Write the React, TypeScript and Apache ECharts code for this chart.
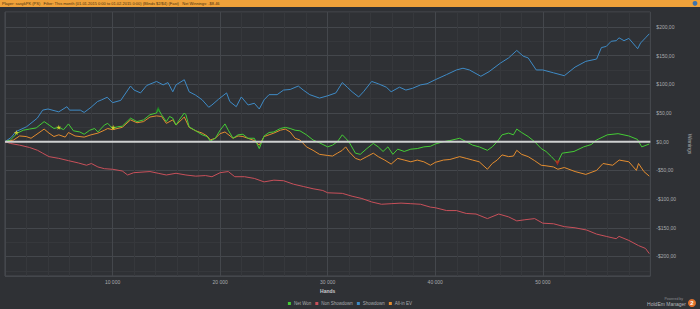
import React, { useEffect, useRef } from "react";
import * as echarts from "echarts";

// [hands, winnings $]
const netWon: [number, number][] = [[0,0],[500,3],[1150,15],[1700,20],[2270,22],[2900,24],[3640,35],[4100,29],[4550,23],[5000,25],[5450,21],[5900,31],[6360,19],[6950,17],[7360,13],[7880,20],[8330,23],[8640,17],[9240,29],[9550,32],[10000,23],[10450,26],[10900,27],[11670,41],[12270,35],[12880,38],[13480,47],[14090,50],[14240,57],[14550,47],[15000,35],[15300,44],[15600,41],[15900,29],[16200,38],[16670,50],[16820,47],[17120,26],[17730,19],[18330,12],[18790,9],[19090,1],[19550,6],[20000,20],[20450,31],[20760,20],[21200,6],[21670,12],[22120,13],[22580,6],[23180,6],[23640,-12],[24090,10],[24550,16],[25000,17],[25600,23],[26060,25],[26510,23],[26970,20],[27420,19],[28030,12],[28640,3],[29240,-2],[30000,-9],[30450,-6],[30900,0],[31360,12],[31670,6],[31970,0],[32580,-20],[33030,-22],[33640,-12],[34240,-3],[34700,-9],[35150,-17],[35600,-9],[36060,-22],[36510,-13],[37120,-17],[37730,-13],[38330,-12],[38940,-9],[39550,-8],[40000,-4],[40760,0],[41360,2],[42270,6],[42880,0],[43480,-6],[44090,-9],[44850,-15],[45300,-9],[45760,0],[46210,12],[46820,15],[47270,12],[47580,22],[48030,16],[48640,9],[49240,0],[49850,-12],[50300,-17],[50800,-26],[51360,-37],[51800,-20],[52900,-17],[53800,-9],[54500,-5],[55000,3],[56000,12],[57000,14],[58000,10],[58800,4],[59200,-9],[59900,-4]];

const nonShowdown: [number, number][] = [[0,0],[500,-3],[1360,-6],[2270,-10],[3030,-15],[3500,-20],[4090,-26],[5000,-29],[5900,-33],[6820,-37],[7580,-41],[8030,-38],[8640,-44],[9240,-47],[10000,-48],[10900,-51],[11400,-58],[11970,-54],[13480,-52],[14240,-55],[15000,-58],[15900,-55],[16820,-58],[17730,-60],[18640,-59],[19240,-61],[20000,-54],[20760,-52],[21360,-61],[22270,-61],[23180,-64],[24090,-70],[25000,-67],[25900,-68],[26820,-74],[27730,-78],[28640,-82],[29550,-85],[30000,-89],[31360,-90],[32270,-95],[33180,-99],[34090,-105],[35000,-109],[35900,-108],[36820,-107],[37730,-108],[38640,-109],[39550,-114],[40000,-115],[41060,-120],[41970,-120],[42880,-125],[43790,-126],[44850,-134],[45900,-126],[46820,-131],[47580,-138],[48330,-136],[49240,-134],[50000,-142],[51000,-143],[52000,-148],[53000,-150],[54090,-154],[55000,-161],[55900,-165],[56820,-169],[57090,-165],[58000,-172],[58900,-181],[59550,-186],[59900,-195]];

const showdown: [number, number][] = [[0,0],[600,8],[1000,17.5],[2000,26],[3000,41],[3500,55],[4000,57],[5000,52],[5760,61],[6000,55],[7000,55],[7360,51],[8000,60],[8600,70],[9000,73],[9500,77.5],[10000,68],[10760,72],[11670,97],[12000,90],[12600,85],[13180,98],[14090,105],[14700,99],[15150,103],[15600,87],[15900,99],[16670,108],[17120,87],[17730,81],[18330,73],[18940,60],[19240,64],[19850,74],[20600,85],[20900,70],[21500,61],[21970,78],[22600,64],[23180,67],[23640,57],[24090,73],[24550,82],[25300,82],[25900,90],[26510,91],[27270,97],[27730,90],[28330,82],[29240,76],[30000,80],[30760,85],[31360,103],[31820,95],[32270,87],[32880,78],[33330,87],[34090,105],[34700,101],[35450,95],[35900,87],[36670,95],[37270,90],[37880,93],[38640,99],[39240,101],[40000,108],[41060,117],[41970,125],[42580,128],[43180,125],[44240,114],[45000,122],[46060,137],[46820,146],[47580,159],[48180,149],[48640,146],[49390,125],[50000,125],[51000,120],[52000,115],[53000,130],[54000,140],[55000,144],[55450,164],[55900,166],[56360,175],[56820,176],[57090,181],[57550,176],[58000,180],[58640,166],[58820,162],[59090,172],[59550,181],[59900,188]];

const allInEV: [number, number][] = [[0,0],[800,3],[1360,10],[1970,9],[2420,6],[2880,12],[3640,22],[4090,15],[4550,9],[5000,12],[5600,8],[5900,16],[6510,10],[7360,8],[8000,12],[8640,15],[9240,20],[9550,23],[10000,21],[10900,25],[11670,38],[12270,33],[12880,35],[13480,43],[14090,45],[14550,44],[15000,32],[15600,38],[15900,29],[16670,43],[17120,25],[17730,19],[18330,15],[18790,10],[19090,3],[19550,6],[20000,14],[20450,17],[21200,6],[21670,10],[22120,9],[22580,6],[23180,2],[23640,-6],[24090,9],[24550,12],[25000,15],[25600,20],[26060,22],[26510,17],[26970,6],[27420,3],[28030,-9],[28640,-15],[29240,-22],[30000,-24],[30450,-25],[30900,-20],[31360,-15],[31670,-9],[31970,-17],[32580,-29],[33030,-32],[33640,-26],[34240,-20],[34700,-26],[35300,-32],[35900,-39],[36510,-29],[37120,-32],[37730,-35],[38330,-32],[38940,-35],[39550,-41],[40000,-36],[40760,-32],[41360,-31],[42270,-26],[42880,-29],[43480,-32],[44090,-35],[44850,-48],[45300,-38],[45760,-32],[46210,-23],[46820,-26],[47270,-25],[47580,-15],[48030,-22],[48640,-26],[49240,-33],[49850,-41],[50300,-42],[51000,-44],[51400,-48],[52000,-45],[53000,-52],[54000,-57],[55000,-50],[55600,-38],[56500,-41],[57100,-32],[58000,-35],[58700,-50],[58900,-38],[59400,-52],[59900,-60]];

const starMarks: [number, number][] = [[1060,16],[5000,25],[10060,25]];
const greenMarks: [number, number][] = [[14240,57]];
const redMarks: [number, number][] = [[51360,-37]];

const seriesNames = ["Net Won", "Non Showdown", "Showdown", "All-in EV"];
const zeroLine: [number, number][] = [[0,0],[60000,0]];

const headerText =
  "Player: sasykPK (PS)   Filter: This month (01.01.2015 0:00 to 01.02.2015 0:00) (Blinds $2/$4) (Fast)   Net Winnings: -$8.46";

const FONT = "Liberation Sans, DejaVu Sans, sans-serif";
const STAR = "path://M50,0 L61,35 L98,35 L68,57 L79,91 L50,70 L21,91 L32,57 L2,35 L39,35 Z";

function fmtHands(v: number) {
  return String(v).replace(/\B(?=(\d{3})+(?!\d))/g, " ");
}
function fmtMoney(v: number) {
  const s = Math.abs(v).toFixed(2).replace(".", ",");
  return (v < 0 ? "-$" : "$") + s;
}

export default function App() {
  const ref = useRef<HTMLDivElement>(null);
  useEffect(() => {
    if (!ref.current) return;
    const chart = echarts.init(ref.current, null, { renderer: "svg" });
    const line = (name: string, data: [number, number][], color: string, z: number) => ({
      name,
      type: "line",
      data,
      showSymbol: false,
      symbol: "none",
      z,
      lineStyle: { color, width: 1 },
      itemStyle: { color },
    });
    chart.setOption({
      animation: false,
      backgroundColor: "#2f3135",
      textStyle: { fontFamily: FONT },
      grid: {
        left: 5,
        right: 35,
        top: 12,
        bottom: 33,
        show: true,
        borderColor: "#4a4d52",
        borderWidth: 1,
        backgroundColor: "transparent",
      },
      legend: {
        data: seriesNames,
        bottom: 3,
        left: "center",
        padding: 0,
        icon: "rect",
        itemWidth: 3,
        itemHeight: 3,
        itemGap: 4,
        textStyle: { color: "#a9abae", fontSize: 4.5, fontFamily: FONT, padding: [0, 0, 0, -2] },
      },
      xAxis: {
        type: "value",
        min: 0,
        max: 60000,
        interval: 10000,
        name: "Hands",
        nameLocation: "middle",
        nameGap: 10,
        nameTextStyle: { color: "#c8c9cb", fontSize: 5, fontWeight: "bold", fontFamily: FONT },
        axisLine: { show: false },
        axisTick: { show: false },
        axisLabel: {
          color: "#a9abae",
          fontSize: 5,
          margin: 3,
          showMinLabel: false,
          showMaxLabel: false,
          formatter: (v: number) => fmtHands(v),
        },
        splitLine: { show: true, lineStyle: { color: "#44474c", width: 1 } },
        minorTick: { show: false, splitNumber: 5 },
        minorSplitLine: { show: true, lineStyle: { color: "#36383c", width: 1 } },
      },
      yAxis: {
        type: "value",
        position: "right",
        min: -234,
        max: 226,
        splitNumber: 9,
        name: "Winnings",
        nameLocation: "middle",
        nameRotate: -90,
        nameGap: 26,
        nameTextStyle: { color: "#a9abae", fontSize: 5, fontFamily: FONT },
        axisLine: { show: false },
        axisTick: { show: false },
        axisLabel: {
          color: "#a9abae",
          fontSize: 5,
          margin: 6,
          showMinLabel: false,
          showMaxLabel: false,
          formatter: (v: number) => (v % 50 === 0 ? fmtMoney(v) : ""),
        },
        splitLine: { show: true, lineStyle: { color: "#44474c", width: 1 } },
        minorTick: { show: false, splitNumber: 2 },
        minorSplitLine: { show: true, lineStyle: { color: "#36383c", width: 1 } },
      },
      series: [
        line("Non Showdown", nonShowdown, "#c8505a", 2),
        line("Showdown", showdown, "#3f8bc6", 3),
        line("All-in EV", allInEV, "#e48d30", 4),
        line("Net Won", netWon, "#45cc36", 5),
        {
          name: "zero",
          type: "line",
          data: zeroLine,
          symbol: "none",
          z: 6,
          lineStyle: { color: "#cfd0d1", width: 2 },
          silent: true,
        },
        {
          name: "stars",
          type: "scatter",
          data: starMarks,
          symbol: STAR,
          symbolSize: 5,
          z: 7,
          itemStyle: { color: "#f4e526" },
        },
        {
          name: "peak",
          type: "scatter",
          data: greenMarks,
          symbol: "triangle",
          symbolSize: 5,
          z: 7,
          itemStyle: { color: "#1f8f23" },
        },
        {
          name: "drop",
          type: "scatter",
          data: redMarks,
          symbol: "triangle",
          symbolRotate: 180,
          symbolSize: 5,
          z: 7,
          itemStyle: { color: "#c4201c" },
        },
      ],
      graphic: [
        {
          type: "rect",
          shape: { x: 0, y: 0, width: 700, height: 7 },
          style: { fill: "#f0a23a" },
          silent: true,
        },
        {
          type: "text",
          x: 2,
          y: 3.7,
          style: {
            text: headerText,
            fill: "#4a3210",
            fontSize: 4,
            fontFamily: FONT,
            verticalAlign: "middle",
          },
        },
        {
          type: "circle",
          shape: { cx: 695, cy: 3.3, r: 2.4 },
          style: { fill: "#3d73ad" },
        },
        {
          type: "text",
          x: 683,
          y: 299,
          style: { text: "Powered by", fill: "#8c8e91", fontSize: 3.5, fontFamily: FONT, align: "right", verticalAlign: "middle" },
        },
        {
          type: "text",
          x: 686,
          y: 303.5,
          style: { text: "HoldEm Manager", fill: "#b5b7ba", fontSize: 5, fontFamily: FONT, align: "right", verticalAlign: "middle" },
        },
        {
          type: "circle",
          shape: { cx: 692, cy: 303, r: 4 },
          style: { fill: "#e2712b" },
        },
        {
          type: "text",
          x: 692,
          y: 303.3,
          style: { text: "2", fill: "#ffffff", fontSize: 6, fontWeight: "bold", fontFamily: FONT, align: "center", verticalAlign: "middle" },
        },
      ],
    });
    return () => chart.dispose();
  }, []);
  return (
    <div
      ref={ref}
      style={{ position: "fixed", left: 0, top: 0, width: 700, height: 309 }}
    />
  );
}
